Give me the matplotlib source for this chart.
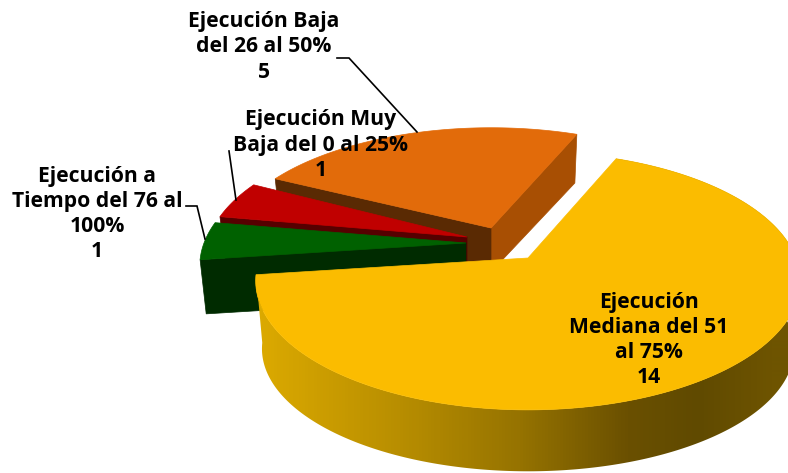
import numpy as np
import matplotlib
matplotlib.use("Agg")
import matplotlib.pyplot as plt
from matplotlib.patches import Polygon
from matplotlib.colors import LinearSegmentedColormap

# Data
categories = ["Ejecución Mediana del 51 al 75%", "Ejecución a Tiempo del 76 al 100%",
              "Ejecución Muy Baja del 0 al 25%", "Ejecución Baja del 26 al 50%"]
values = [14, 1, 1, 5]
label_texts = ["Ejecución\nMediana del 51\nal 75%\n14",
               "Ejecución a\nTiempo del 76 al\n100%\n1",
               "Ejecución Muy\nBaja del 0 al 25%\n1",
               "Ejecución Baja\ndel 26 al 50%\n5"]
# Style
top_colors = ["#FBBC00", "#006100", "#C00000", "#E26B0A"]
face_colors = [None, "#002B00", "#560000", "#5A2A03"]
apex = [(528, 258), (466, 243), (467, 237), (491, 228)]
radius_x = [268, 262, 258, 261]
radius_y = [125.0, 125.0, 125.0, 118.0]
depth = [69.0, 55.0, 44.0, 44.0]
START = 22.5
P = 0.177
SHRINK_X = 0.977
SHRINK_Y = 0.95

fig = plt.figure(figsize=(7.88, 4.73), dpi=100, facecolor="white")
ax = fig.add_axes([0, 0, 1, 1])
ax.set_xlim(0, 788)
ax.set_ylim(473, 0)
ax.axis("off")


def top(i, ang):
    a = np.radians(np.asarray(ang, float))
    X, Y = np.sin(a), np.cos(a)
    d = 1 + P * Y
    return apex[i][0] + radius_x[i] * X / d, apex[i][1] - radius_y[i] * Y / d


def bottom(i, ang):
    x, y = top(i, ang)
    return (apex[i][0] + SHRINK_X * (x - apex[i][0]),
            apex[i][1] + depth[i] + SHRINK_Y * (y - apex[i][1]))


sweeps = 360.0 * np.array(values) / np.sum(values)
edges = START + np.concatenate([[0], np.cumsum(sweeps)])


def quad(i, ang, color, z):
    x0, y0 = top(i, ang)
    x1, y1 = bottom(i, ang)
    ax.add_patch(Polygon([(apex[i][0], apex[i][1]), (x0, y0), (x1, y1),
                          (apex[i][0], apex[i][1] + depth[i])],
                         closed=True, fc=color, ec=color, lw=0.5, zorder=z))


def top_face(i, z):
    ang = np.linspace(edges[i], edges[i + 1], 200)
    x, y = top(i, ang)
    pts = np.column_stack([np.r_[apex[i][0], x], np.r_[apex[i][1], y]])
    ax.add_patch(Polygon(pts, closed=True, fc=top_colors[i], ec=top_colors[i], lw=0.5, zorder=z))


# Orange slice: both cut faces
quad(3, edges[4], "#A84F03", 1)
quad(3, edges[3], face_colors[3], 1)
top_face(3, 1.5)
# Red slice
quad(2, edges[2], face_colors[2], 2)
top_face(2, 2.5)
# Green slice
quad(1, edges[1], face_colors[1], 3)
top_face(1, 3.5)

# Yellow slice: gradient outer wall
ang = np.linspace(edges[0], edges[1], 400)
xt, yt = top(0, ang)
xb, yb = bottom(0, ang)
wall = Polygon(np.column_stack([np.r_[xt, xb[::-1]], np.r_[yt, yb[::-1]]]),
               closed=True, fc="none", ec="none", transform=ax.transData)
ax.add_patch(wall)
pos = np.array([0, 257, 400, 520, 630, 700, 773, 788]) / 788
cols = ["#DCAA00", "#DCAA00", "#B88E00", "#967300", "#6A5000", "#604A00", "#6E5400", "#6E5400"]
cmap = LinearSegmentedColormap.from_list("wall", list(zip(pos, cols)))
im = ax.imshow(np.linspace(0, 1, 788)[None, :], cmap=cmap, extent=(0, 788, 473, 0),
               aspect="auto", zorder=4, interpolation="bilinear")
im.set_clip_path(wall)
top_face(0, 4.5)

# Labels
font = dict(family="Open Sans", weight="bold", fontsize=15.2, color="black",
            ha="center", va="center", linespacing=1.27, zorder=6)
ax.text(649, 340, label_texts[0], **font)
ax.text(97, 214, label_texts[1], **font)
ax.text(321, 145, label_texts[2], **font)
ax.text(264, 47, label_texts[3], **font)

# Leader lines
for xs, ys in [([337, 349, 417], [58, 58, 132]),
               ([229, 236], [151, 200]),
               ([186, 197, 205], [206, 206, 239])]:
    ax.plot(xs, ys, color="black", lw=1.2, zorder=5, solid_joinstyle="miter")

ax.set_xlim(0, 788)
ax.set_ylim(473, 0)
fig.savefig("out.png", dpi=100, facecolor="white")
